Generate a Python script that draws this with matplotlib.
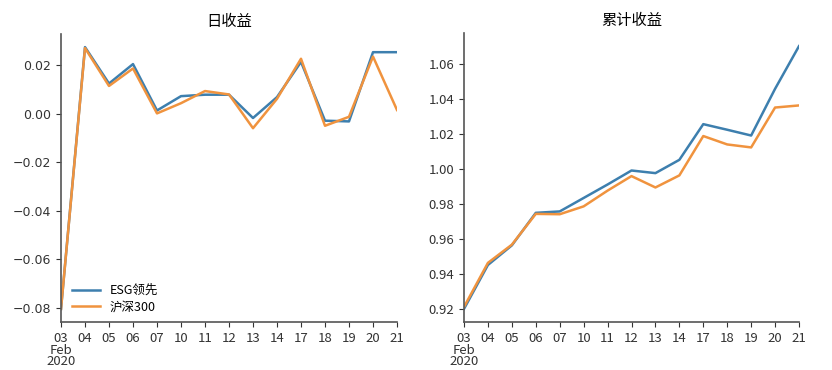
import matplotlib
matplotlib.use("Agg")
import matplotlib.pyplot as plt

plt.rcParams['font.family'] = ['Noto Sans CJK SC', 'DejaVu Sans']
plt.rcParams['axes.unicode_minus'] = False

days = ['03', '04', '05', '06', '07', '10', '11', '12', '13', '14',
        '17', '18', '19', '20', '21']
tick_labels = ['03\nFeb\n2020'] + days[1:]

esg_daily = [-0.0804, 0.0274, 0.0124, 0.0204, 0.0013, 0.0072, 0.0078, 0.0078,
             -0.0018, 0.0068, 0.0213, -0.0029, -0.0032, 0.0253, 0.0253]
hs300_daily = [-0.0804, 0.0270, 0.0114, 0.0186, 0.0001, 0.0043, 0.0093, 0.0079,
               -0.0060, 0.0061, 0.0226, -0.0050, -0.0013, 0.0235, 0.0015]

esg_cum = [0.9199, 0.9450, 0.9562, 0.9748, 0.9756, 0.9833, 0.9910, 0.9990,
           0.9975, 1.0051, 1.0255, 1.0223, 1.0190, 1.0457, 1.0701]
hs300_cum = [0.9210, 0.9462, 0.9566, 0.9742, 0.9740, 0.9785, 0.9875, 0.9958,
             0.9893, 0.9962, 1.0187, 1.0139, 1.0122, 1.0350, 1.0362]

blue = '#3d7fae'
orange = '#f0933e'

fig = plt.figure(figsize=(8.32, 3.70), dpi=100)
ax1 = fig.add_axes([61 / 832, 48 / 370, 336 / 832, 288 / 370])
ax2 = fig.add_axes([464 / 832, 48 / 370, 335 / 832, 289 / 370])

x = range(len(days))

for ax, s1, s2, title in [(ax1, esg_daily, hs300_daily, '日收益'),
                          (ax2, esg_cum, hs300_cum, '累计收益')]:
    ax.plot(x, s1, color=blue, lw=1.8, label='ESG领先')
    ax.plot(x, s2, color=orange, lw=1.8, label='沪深300')
    ax.set_xlim(0, len(days) - 1)
    ax.set_xticks(list(x))
    ax.set_xticklabels(tick_labels, linespacing=0.85)
    ax.set_title(title, fontsize=11, pad=6)
    ax.spines['top'].set_visible(False)
    ax.spines['right'].set_visible(False)
    for sp in ['left', 'bottom']:
        ax.spines[sp].set_color('#555555')
        ax.spines[sp].set_linewidth(1.2)
    ax.tick_params(labelsize=9.5, colors='#333333', length=3.5)
    ax.tick_params(axis='x', pad=4)

ax1.set_yticks([0.02, 0.0, -0.02, -0.04, -0.06, -0.08])
ax1.set_yticklabels(['0.02', '0.00', '\u22120.02', '\u22120.04', '\u22120.06', '\u22120.08'],
                    family=['DejaVu Sans'], fontsize=9)
ax2.set_yticks([0.92, 0.94, 0.96, 0.98, 1.00, 1.02, 1.04, 1.06])
ax2.set_yticklabels(['0.92', '0.94', '0.96', '0.98', '1.00', '1.02', '1.04', '1.06'])

ax1.legend(loc='lower left', frameon=False, fontsize=9, handlelength=2.2,
           bbox_to_anchor=(0.0, -0.01), labelspacing=0.3)

fig.savefig('out.png', dpi=100)
